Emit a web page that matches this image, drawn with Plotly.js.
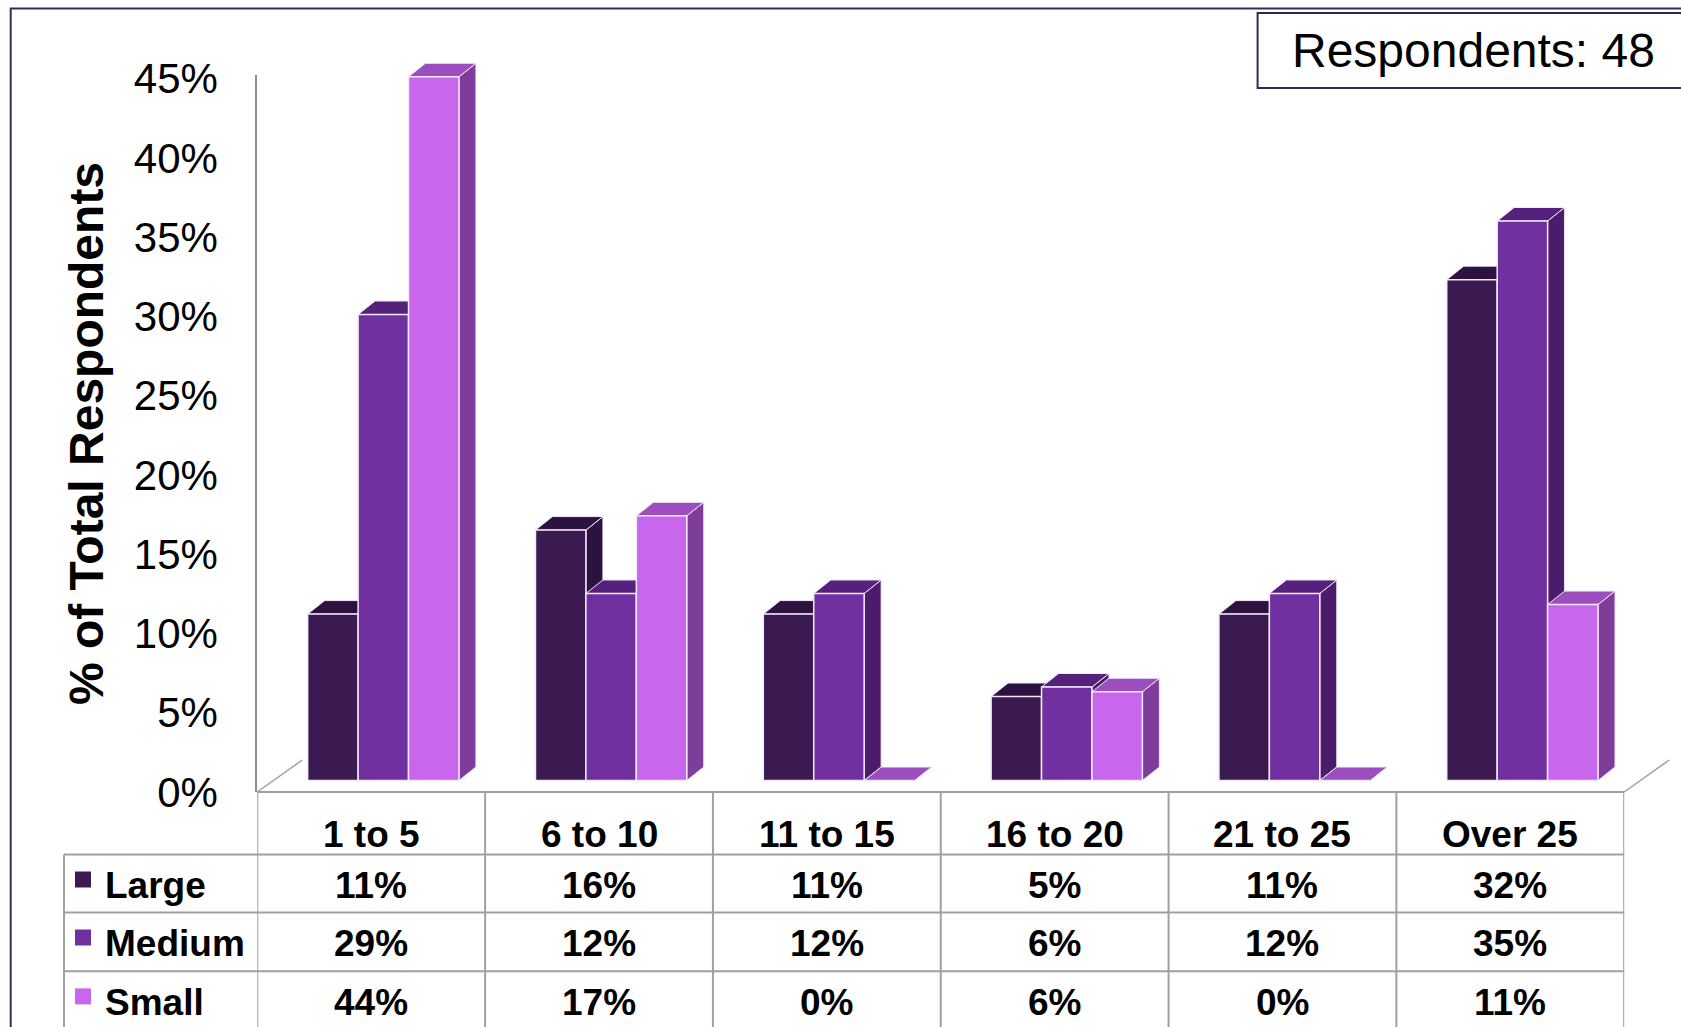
<!DOCTYPE html>
<html>
<head>
<meta charset="utf-8">
<script src="https://cdn.plot.ly/plotly-3.0.1.min.js"></script>
<style>html,body{margin:0;padding:0;background:#fff;}#chart{width:1681px;height:1027px;}</style>
</head>
<body>
<div id="chart"></div>
<script>
// ---------- data ----------
const categories = ['1 to 5', '6 to 10', '11 to 15', '16 to 20', '21 to 25', 'Over 25'];
const seriesNames = ['Large', 'Medium', 'Small'];
const largeValues = [10.5, 15.8, 10.5, 5.3, 10.5, 31.6];
const mediumValues = [29.4, 11.8, 11.8, 5.9, 11.8, 35.3];
const smallValues = [44.4, 16.7, 0, 5.6, 0, 11.1];
const respondents = 48;
const tickValues = [0, 5, 10, 15, 20, 25, 30, 35, 40, 45];

// ---------- styles ----------
const W = 1681, H = 1027;
const FONT = 'Liberation Sans, Arial, sans-serif';
const frontColors = ['#3a1a51', '#7030a0', '#c966ee'];
const topColors = ['#2c123f', '#55217c', '#9b4fbe'];
const sideColors = ['#2c123f', '#4b1c6b', '#7f3d9b'];
const gridCol = '#a0a0a0';
const px = v => v / W;
const py = v => 1 - v / H;

const series = [largeValues, mediumValues, smallValues];
const idx = categories.map((c, i) => i);

const xDomain = [px(257.3), px(1624.2)];
const catPx = (1624.2 - 257.3) / categories.length;
const catShift = 12.1 / catPx;
const yPxPerUnit = 15.85;
const floorPx = 792;
const barBasePx = 780.5;
const tickTopPx = 75;
const barTopPx = 15;
const bargap = 0.336;
const w = (1 - bargap) / 3;
const dx = 17 / catPx;
const dy = 13.5 / yPxPerUnit;

const barRange = [-0.5 - catShift, 5.5 - catShift];
const y2Bottom = -(floorPx - barBasePx) / yPxPerUnit;
const y2Range = [y2Bottom, y2Bottom + (floorPx - barTopPx) / yPxPerUnit];

// ---------- 3D faces (computed from data) ----------
function faces(kind) {
  return series.map((vals, s) => {
    const xs = [], ys = [];
    vals.forEach((v, j) => {
      const c = j + (s - 1) * w;
      const xl = c - w / 2, xr = c + w / 2;
      if (kind === 'side') {
        xs.push(xr, xr + dx, xr + dx, xr, xr, null);
        ys.push(0, dy, v + dy, v, 0, null);
      } else {
        xs.push(xl, xr, xr + dx, xl + dx, xl, null);
        ys.push(v, v, v + dy, v + dy, v, null);
      }
    });
    return {
      type: 'scatter', mode: 'lines', x: xs, y: ys, xaxis: 'x2', yaxis: 'y2',
      fill: 'toself', fillcolor: kind === 'side' ? sideColors[s] : topColors[s],
      line: {color: '#f3e9f8', width: 1}, hoverinfo: 'skip', showlegend: false
    };
  });
}

const traces = [
  {type: 'scatter', x: [], y: [], xaxis: 'x', yaxis: 'y', showlegend: false, hoverinfo: 'skip'},
  ...faces('side'),
  ...faces('top'),
  ...series.map((vals, s) => ({
    type: 'bar', name: seriesNames[s], x: idx, y: vals, xaxis: 'x3', yaxis: 'y3',
    marker: {color: frontColors[s], line: {color: '#f3e9f8', width: 1.5}},
    showlegend: false, hoverinfo: 'skip'
  }))
];

// ---------- table (annotations + lines) ----------
const annotations = [];
const shapes = [];
const headerY = 834, rowY = [885.5, 943.5, 1002.4];
const rowLines = [854.5, 912.5, 971.3];

categories.forEach((c, j) => {
  annotations.push({xref: 'x', yref: 'paper', x: j, y: py(headerY), text: '<b>' + c + '</b>',
    showarrow: false, xanchor: 'center', yanchor: 'middle', font: {family: FONT, size: 37, color: '#000'}});
  series.forEach((vals, s) => {
    annotations.push({xref: 'x', yref: 'paper', x: j, y: py(rowY[s]), text: '<b>' + Math.round(vals[j]) + '%</b>',
      showarrow: false, xanchor: 'center', yanchor: 'middle', font: {family: FONT, size: 37, color: '#000'}});
  });
});
seriesNames.forEach((n, s) => {
  annotations.push({xref: 'paper', yref: 'paper', x: px(103), y: py(rowY[s]), text: '<b>' + n + '</b>',
    showarrow: false, xanchor: 'left', yanchor: 'middle', font: {family: FONT, size: 37, color: '#000'}});
  shapes.push({type: 'rect', xref: 'paper', yref: 'paper', x0: px(75), x1: px(91),
    y0: py(rowY[s] - 14), y1: py(rowY[s] + 2), fillcolor: frontColors[s], line: {width: 0}});
});
annotations.push({xref: 'paper', yref: 'paper', x: px(1473), y: py(50.5), text: 'Respondents: ' + respondents,
  showarrow: false, xanchor: 'center', yanchor: 'middle', font: {family: FONT, size: 48, color: '#000'}});

// column boundaries
for (let k = 0; k <= categories.length; k++) {
  shapes.push({type: 'line', xref: 'x', yref: 'paper', x0: k - 0.5, x1: k - 0.5, y0: py(floorPx), y1: py(H + 5),
    line: {color: gridCol, width: 2}});
}
shapes.push({type: 'line', xref: 'paper', yref: 'paper', x0: px(64), x1: px(64), y0: py(rowLines[0]), y1: py(H + 5),
  line: {color: gridCol, width: 2}});
rowLines.forEach(r => shapes.push({type: 'line', xref: 'paper', yref: 'paper', x0: px(64), x1: xDomain[1],
  y0: py(r), y1: py(r), line: {color: gridCol, width: 2}}));
// floor
shapes.push({type: 'line', xref: 'paper', yref: 'paper', x0: xDomain[0], x1: xDomain[1], y0: py(floorPx), y1: py(floorPx),
  line: {color: gridCol, width: 2}});
shapes.push({type: 'line', xref: 'paper', yref: 'paper', x0: xDomain[0], x1: xDomain[0] + px(45), y0: py(floorPx), y1: py(floorPx - 32),
  line: {color: gridCol, width: 1.5}});
shapes.push({type: 'line', xref: 'paper', yref: 'paper', x0: xDomain[1], x1: xDomain[1] + px(45), y0: py(floorPx), y1: py(floorPx - 32),
  line: {color: gridCol, width: 1.5}});
// frame & respondents box
shapes.push({type: 'rect', xref: 'paper', yref: 'paper', x0: px(10.7), x1: px(W + 20), y0: py(8.6), y1: py(H + 20),
  line: {color: '#2f2f5c', width: 2}, fillcolor: 'rgba(0,0,0,0)'});
shapes.push({type: 'rect', xref: 'paper', yref: 'paper', x0: px(1257.6), x1: px(W + 20), y0: py(12.9), y1: py(88),
  line: {color: '#2b2b58', width: 2}, fillcolor: 'rgba(0,0,0,0)'});

const layout = {
  width: W, height: H,
  margin: {l: 0, r: 0, t: 0, b: 0, pad: 0},
  paper_bgcolor: '#ffffff', plot_bgcolor: 'rgba(0,0,0,0)',
  showlegend: false,
  barmode: 'group', bargap: bargap, bargroupgap: 0,
  font: {family: FONT, color: '#000'},
  xaxis: {domain: xDomain, range: [-0.5, 5.5], visible: false, anchor: 'y', fixedrange: true},
  yaxis: {
    domain: [py(floorPx), py(tickTopPx)], range: [0, (floorPx - tickTopPx) / yPxPerUnit], anchor: 'x',
    tickvals: tickValues, ticktext: tickValues.map(v => v + '%'),
    ticks: '', showgrid: false, zeroline: false, showline: true, linecolor: '#8c8c8c', linewidth: 2,
    ticklabelstandoff: 29,
    tickfont: {family: FONT, size: 42, color: '#000'},
    title: {text: '<b>% of Total Respondents</b>', font: {family: FONT, size: 48, color: '#000'}, standoff: 15},
    fixedrange: true
  },
  xaxis2: {domain: xDomain, range: barRange, visible: false, anchor: 'y2', fixedrange: true},
  yaxis2: {domain: [py(floorPx), py(barTopPx)], range: y2Range, visible: false, anchor: 'x2', fixedrange: true},
  xaxis3: {range: barRange, overlaying: 'x2', visible: false, anchor: 'y3', fixedrange: true},
  yaxis3: {range: y2Range, overlaying: 'y2', visible: false, anchor: 'x3', fixedrange: true},
  annotations: annotations,
  shapes: shapes
};

Plotly.newPlot('chart', traces, layout, {staticPlot: true, displayModeBar: false});
</script>
</body>
</html>
